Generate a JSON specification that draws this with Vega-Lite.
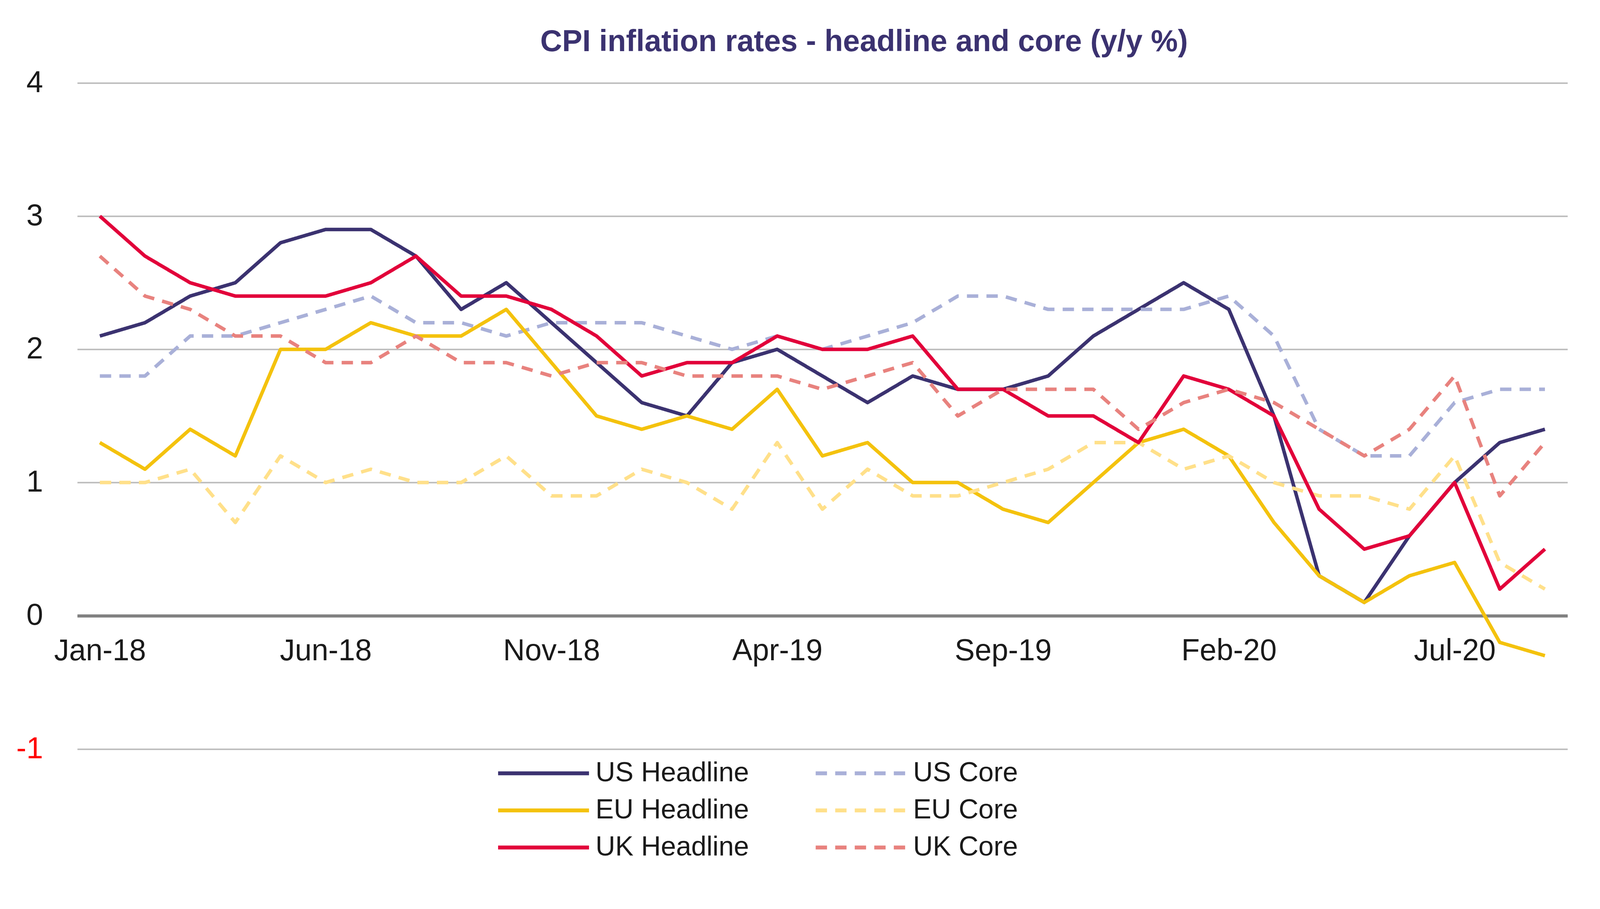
{
  "$schema": "https://vega.github.io/schema/vega-lite/v6.json",
  "autosize": {"type": "none"},
  "width": 3815,
  "height": 1705.7,
  "padding": {"left": 197.8, "top": 212.4, "right": 211.2, "bottom": 409.9},
  "background": "white",
  "title": {
    "text": "CPI inflation rates - headline and core (y/y %)",
    "font": "Liberation Sans",
    "fontSize": 77.5,
    "fontWeight": "bold",
    "color": "#3B3270",
    "anchor": "middle",
    "frame": "group",
    "baseline": "alphabetic",
    "dx": 106.7,
    "dy": 82,
    "offset": 46.5
  },
  "data": {"values": [
    {"m":"Jan-18","s":"US Headline","v":2.1},{"m":"Feb-18","s":"US Headline","v":2.2},{"m":"Mar-18","s":"US Headline","v":2.4},{"m":"Apr-18","s":"US Headline","v":2.5},{"m":"May-18","s":"US Headline","v":2.8},{"m":"Jun-18","s":"US Headline","v":2.9},{"m":"Jul-18","s":"US Headline","v":2.9},{"m":"Aug-18","s":"US Headline","v":2.7},{"m":"Sep-18","s":"US Headline","v":2.3},{"m":"Oct-18","s":"US Headline","v":2.5},{"m":"Nov-18","s":"US Headline","v":2.2},{"m":"Dec-18","s":"US Headline","v":1.9},
    {"m":"Jan-19","s":"US Headline","v":1.6},{"m":"Feb-19","s":"US Headline","v":1.5},{"m":"Mar-19","s":"US Headline","v":1.9},{"m":"Apr-19","s":"US Headline","v":2.0},{"m":"May-19","s":"US Headline","v":1.8},{"m":"Jun-19","s":"US Headline","v":1.6},{"m":"Jul-19","s":"US Headline","v":1.8},{"m":"Aug-19","s":"US Headline","v":1.7},{"m":"Sep-19","s":"US Headline","v":1.7},{"m":"Oct-19","s":"US Headline","v":1.8},{"m":"Nov-19","s":"US Headline","v":2.1},{"m":"Dec-19","s":"US Headline","v":2.3},
    {"m":"Jan-20","s":"US Headline","v":2.5},{"m":"Feb-20","s":"US Headline","v":2.3},{"m":"Mar-20","s":"US Headline","v":1.5},{"m":"Apr-20","s":"US Headline","v":0.3},{"m":"May-20","s":"US Headline","v":0.1},{"m":"Jun-20","s":"US Headline","v":0.6},{"m":"Jul-20","s":"US Headline","v":1.0},{"m":"Aug-20","s":"US Headline","v":1.3},{"m":"Sep-20","s":"US Headline","v":1.4},

    {"m":"Jan-18","s":"US Core","v":1.8},{"m":"Feb-18","s":"US Core","v":1.8},{"m":"Mar-18","s":"US Core","v":2.1},{"m":"Apr-18","s":"US Core","v":2.1},{"m":"May-18","s":"US Core","v":2.2},{"m":"Jun-18","s":"US Core","v":2.3},{"m":"Jul-18","s":"US Core","v":2.4},{"m":"Aug-18","s":"US Core","v":2.2},{"m":"Sep-18","s":"US Core","v":2.2},{"m":"Oct-18","s":"US Core","v":2.1},{"m":"Nov-18","s":"US Core","v":2.2},{"m":"Dec-18","s":"US Core","v":2.2},
    {"m":"Jan-19","s":"US Core","v":2.2},{"m":"Feb-19","s":"US Core","v":2.1},{"m":"Mar-19","s":"US Core","v":2.0},{"m":"Apr-19","s":"US Core","v":2.1},{"m":"May-19","s":"US Core","v":2.0},{"m":"Jun-19","s":"US Core","v":2.1},{"m":"Jul-19","s":"US Core","v":2.2},{"m":"Aug-19","s":"US Core","v":2.4},{"m":"Sep-19","s":"US Core","v":2.4},{"m":"Oct-19","s":"US Core","v":2.3},{"m":"Nov-19","s":"US Core","v":2.3},{"m":"Dec-19","s":"US Core","v":2.3},
    {"m":"Jan-20","s":"US Core","v":2.3},{"m":"Feb-20","s":"US Core","v":2.4},{"m":"Mar-20","s":"US Core","v":2.1},{"m":"Apr-20","s":"US Core","v":1.4},{"m":"May-20","s":"US Core","v":1.2},{"m":"Jun-20","s":"US Core","v":1.2},{"m":"Jul-20","s":"US Core","v":1.6},{"m":"Aug-20","s":"US Core","v":1.7},{"m":"Sep-20","s":"US Core","v":1.7},

    {"m":"Jan-18","s":"EU Headline","v":1.3},{"m":"Feb-18","s":"EU Headline","v":1.1},{"m":"Mar-18","s":"EU Headline","v":1.4},{"m":"Apr-18","s":"EU Headline","v":1.2},{"m":"May-18","s":"EU Headline","v":2.0},{"m":"Jun-18","s":"EU Headline","v":2.0},{"m":"Jul-18","s":"EU Headline","v":2.2},{"m":"Aug-18","s":"EU Headline","v":2.1},{"m":"Sep-18","s":"EU Headline","v":2.1},{"m":"Oct-18","s":"EU Headline","v":2.3},{"m":"Nov-18","s":"EU Headline","v":1.9},{"m":"Dec-18","s":"EU Headline","v":1.5},
    {"m":"Jan-19","s":"EU Headline","v":1.4},{"m":"Feb-19","s":"EU Headline","v":1.5},{"m":"Mar-19","s":"EU Headline","v":1.4},{"m":"Apr-19","s":"EU Headline","v":1.7},{"m":"May-19","s":"EU Headline","v":1.2},{"m":"Jun-19","s":"EU Headline","v":1.3},{"m":"Jul-19","s":"EU Headline","v":1.0},{"m":"Aug-19","s":"EU Headline","v":1.0},{"m":"Sep-19","s":"EU Headline","v":0.8},{"m":"Oct-19","s":"EU Headline","v":0.7},{"m":"Nov-19","s":"EU Headline","v":1.0},{"m":"Dec-19","s":"EU Headline","v":1.3},
    {"m":"Jan-20","s":"EU Headline","v":1.4},{"m":"Feb-20","s":"EU Headline","v":1.2},{"m":"Mar-20","s":"EU Headline","v":0.7},{"m":"Apr-20","s":"EU Headline","v":0.3},{"m":"May-20","s":"EU Headline","v":0.1},{"m":"Jun-20","s":"EU Headline","v":0.3},{"m":"Jul-20","s":"EU Headline","v":0.4},{"m":"Aug-20","s":"EU Headline","v":-0.2},{"m":"Sep-20","s":"EU Headline","v":-0.3},

    {"m":"Jan-18","s":"EU Core","v":1.0},{"m":"Feb-18","s":"EU Core","v":1.0},{"m":"Mar-18","s":"EU Core","v":1.1},{"m":"Apr-18","s":"EU Core","v":0.7},{"m":"May-18","s":"EU Core","v":1.2},{"m":"Jun-18","s":"EU Core","v":1.0},{"m":"Jul-18","s":"EU Core","v":1.1},{"m":"Aug-18","s":"EU Core","v":1.0},{"m":"Sep-18","s":"EU Core","v":1.0},{"m":"Oct-18","s":"EU Core","v":1.2},{"m":"Nov-18","s":"EU Core","v":0.9},{"m":"Dec-18","s":"EU Core","v":0.9},
    {"m":"Jan-19","s":"EU Core","v":1.1},{"m":"Feb-19","s":"EU Core","v":1.0},{"m":"Mar-19","s":"EU Core","v":0.8},{"m":"Apr-19","s":"EU Core","v":1.3},{"m":"May-19","s":"EU Core","v":0.8},{"m":"Jun-19","s":"EU Core","v":1.1},{"m":"Jul-19","s":"EU Core","v":0.9},{"m":"Aug-19","s":"EU Core","v":0.9},{"m":"Sep-19","s":"EU Core","v":1.0},{"m":"Oct-19","s":"EU Core","v":1.1},{"m":"Nov-19","s":"EU Core","v":1.3},{"m":"Dec-19","s":"EU Core","v":1.3},
    {"m":"Jan-20","s":"EU Core","v":1.1},{"m":"Feb-20","s":"EU Core","v":1.2},{"m":"Mar-20","s":"EU Core","v":1.0},{"m":"Apr-20","s":"EU Core","v":0.9},{"m":"May-20","s":"EU Core","v":0.9},{"m":"Jun-20","s":"EU Core","v":0.8},{"m":"Jul-20","s":"EU Core","v":1.2},{"m":"Aug-20","s":"EU Core","v":0.4},{"m":"Sep-20","s":"EU Core","v":0.2},

    {"m":"Jan-18","s":"UK Headline","v":3.0},{"m":"Feb-18","s":"UK Headline","v":2.7},{"m":"Mar-18","s":"UK Headline","v":2.5},{"m":"Apr-18","s":"UK Headline","v":2.4},{"m":"May-18","s":"UK Headline","v":2.4},{"m":"Jun-18","s":"UK Headline","v":2.4},{"m":"Jul-18","s":"UK Headline","v":2.5},{"m":"Aug-18","s":"UK Headline","v":2.7},{"m":"Sep-18","s":"UK Headline","v":2.4},{"m":"Oct-18","s":"UK Headline","v":2.4},{"m":"Nov-18","s":"UK Headline","v":2.3},{"m":"Dec-18","s":"UK Headline","v":2.1},
    {"m":"Jan-19","s":"UK Headline","v":1.8},{"m":"Feb-19","s":"UK Headline","v":1.9},{"m":"Mar-19","s":"UK Headline","v":1.9},{"m":"Apr-19","s":"UK Headline","v":2.1},{"m":"May-19","s":"UK Headline","v":2.0},{"m":"Jun-19","s":"UK Headline","v":2.0},{"m":"Jul-19","s":"UK Headline","v":2.1},{"m":"Aug-19","s":"UK Headline","v":1.7},{"m":"Sep-19","s":"UK Headline","v":1.7},{"m":"Oct-19","s":"UK Headline","v":1.5},{"m":"Nov-19","s":"UK Headline","v":1.5},{"m":"Dec-19","s":"UK Headline","v":1.3},
    {"m":"Jan-20","s":"UK Headline","v":1.8},{"m":"Feb-20","s":"UK Headline","v":1.7},{"m":"Mar-20","s":"UK Headline","v":1.5},{"m":"Apr-20","s":"UK Headline","v":0.8},{"m":"May-20","s":"UK Headline","v":0.5},{"m":"Jun-20","s":"UK Headline","v":0.6},{"m":"Jul-20","s":"UK Headline","v":1.0},{"m":"Aug-20","s":"UK Headline","v":0.2},{"m":"Sep-20","s":"UK Headline","v":0.5},

    {"m":"Jan-18","s":"UK Core","v":2.7},{"m":"Feb-18","s":"UK Core","v":2.4},{"m":"Mar-18","s":"UK Core","v":2.3},{"m":"Apr-18","s":"UK Core","v":2.1},{"m":"May-18","s":"UK Core","v":2.1},{"m":"Jun-18","s":"UK Core","v":1.9},{"m":"Jul-18","s":"UK Core","v":1.9},{"m":"Aug-18","s":"UK Core","v":2.1},{"m":"Sep-18","s":"UK Core","v":1.9},{"m":"Oct-18","s":"UK Core","v":1.9},{"m":"Nov-18","s":"UK Core","v":1.8},{"m":"Dec-18","s":"UK Core","v":1.9},
    {"m":"Jan-19","s":"UK Core","v":1.9},{"m":"Feb-19","s":"UK Core","v":1.8},{"m":"Mar-19","s":"UK Core","v":1.8},{"m":"Apr-19","s":"UK Core","v":1.8},{"m":"May-19","s":"UK Core","v":1.7},{"m":"Jun-19","s":"UK Core","v":1.8},{"m":"Jul-19","s":"UK Core","v":1.9},{"m":"Aug-19","s":"UK Core","v":1.5},{"m":"Sep-19","s":"UK Core","v":1.7},{"m":"Oct-19","s":"UK Core","v":1.7},{"m":"Nov-19","s":"UK Core","v":1.7},{"m":"Dec-19","s":"UK Core","v":1.4},
    {"m":"Jan-20","s":"UK Core","v":1.6},{"m":"Feb-20","s":"UK Core","v":1.7},{"m":"Mar-20","s":"UK Core","v":1.6},{"m":"Apr-20","s":"UK Core","v":1.4},{"m":"May-20","s":"UK Core","v":1.2},{"m":"Jun-20","s":"UK Core","v":1.4},{"m":"Jul-20","s":"UK Core","v":1.8},{"m":"Aug-20","s":"UK Core","v":0.9},{"m":"Sep-20","s":"UK Core","v":1.3}
  ]},
  "mark": {"type": "line", "strokeWidth": 9, "strokeJoin": "round"},
  "encoding": {
    "x": {
      "field": "m", "type": "ordinal", "sort": null,
      "scale": {"type": "point", "padding": 0.5},
      "axis": {
        "title": null,
        "values": ["Jan-18","Jun-18","Nov-18","Apr-19","Sep-19","Feb-20","Jul-20"],
        "labelAngle": 0,
        "labelFont": "Liberation Sans",
        "labelFontSize": 77,
        "labelColor": "#1a1a1a",
        "labelLimit": 0,
        "labelPadding": 53,
        "ticks": false,
        "tickSize": 0,
        "grid": false,
        "domainColor": "#808080",
        "domainWidth": 8,
        "offset": -341.14
      }
    },
    "y": {
      "field": "v", "type": "quantitative",
      "scale": {"domain": [-1, 4], "nice": false, "zero": false},
      "axis": {
        "title": null,
        "values": [-1, 0, 1, 2, 3, 4],
        "labelExpr": "datum.value + ''",
        "labelFont": "Liberation Sans",
        "labelFontSize": 77,
        "labelLimit": 0,
        "labelColor": {"condition": {"test": "datum.value < 0", "value": "#FF0000"}, "value": "#1a1a1a"},
        "labelPadding": 88,
        "ticks": false,
        "tickSize": 0,
        "domain": false,
        "grid": true,
        "gridColor": "#BFBFBF",
        "gridWidth": 4
      }
    },
    "color": {
      "field": "s", "type": "nominal",
      "scale": {
        "domain": ["US Headline","EU Headline","UK Headline","US Core","EU Core","UK Core"],
        "range": ["#3B3270","#F4C20D","#E2003A","#A9B0D8","#FFE08A","#E8827E"]
      },
      "legend": {
        "title": null,
        "orient": "none",
        "legendX": 1149.7,
        "legendY": 1724,
        "columns": 2,
        "padding": 0,
        "symbolType": "M-3,0H3",
        "symbolSize": 6016,
        "symbolStrokeWidth": 10,
        "labelFont": "Liberation Sans",
        "labelFontSize": 70,
        "labelLimit": 0,
        "labelColor": "#1a1a1a",
        "labelOffset": 89,
        "rowPadding": 16,
        "columnPadding": 150
      }
    },
    "strokeDash": {
      "field": "s", "type": "nominal",
      "scale": {
        "domain": ["US Headline","EU Headline","UK Headline","US Core","EU Core","UK Core"],
        "range": [[1,0],[1,0],[1,0],[29,21],[29,21],[29,21]]
      },
      "legend": null
    }
  },
  "config": {"view": {"stroke": null}}
}
